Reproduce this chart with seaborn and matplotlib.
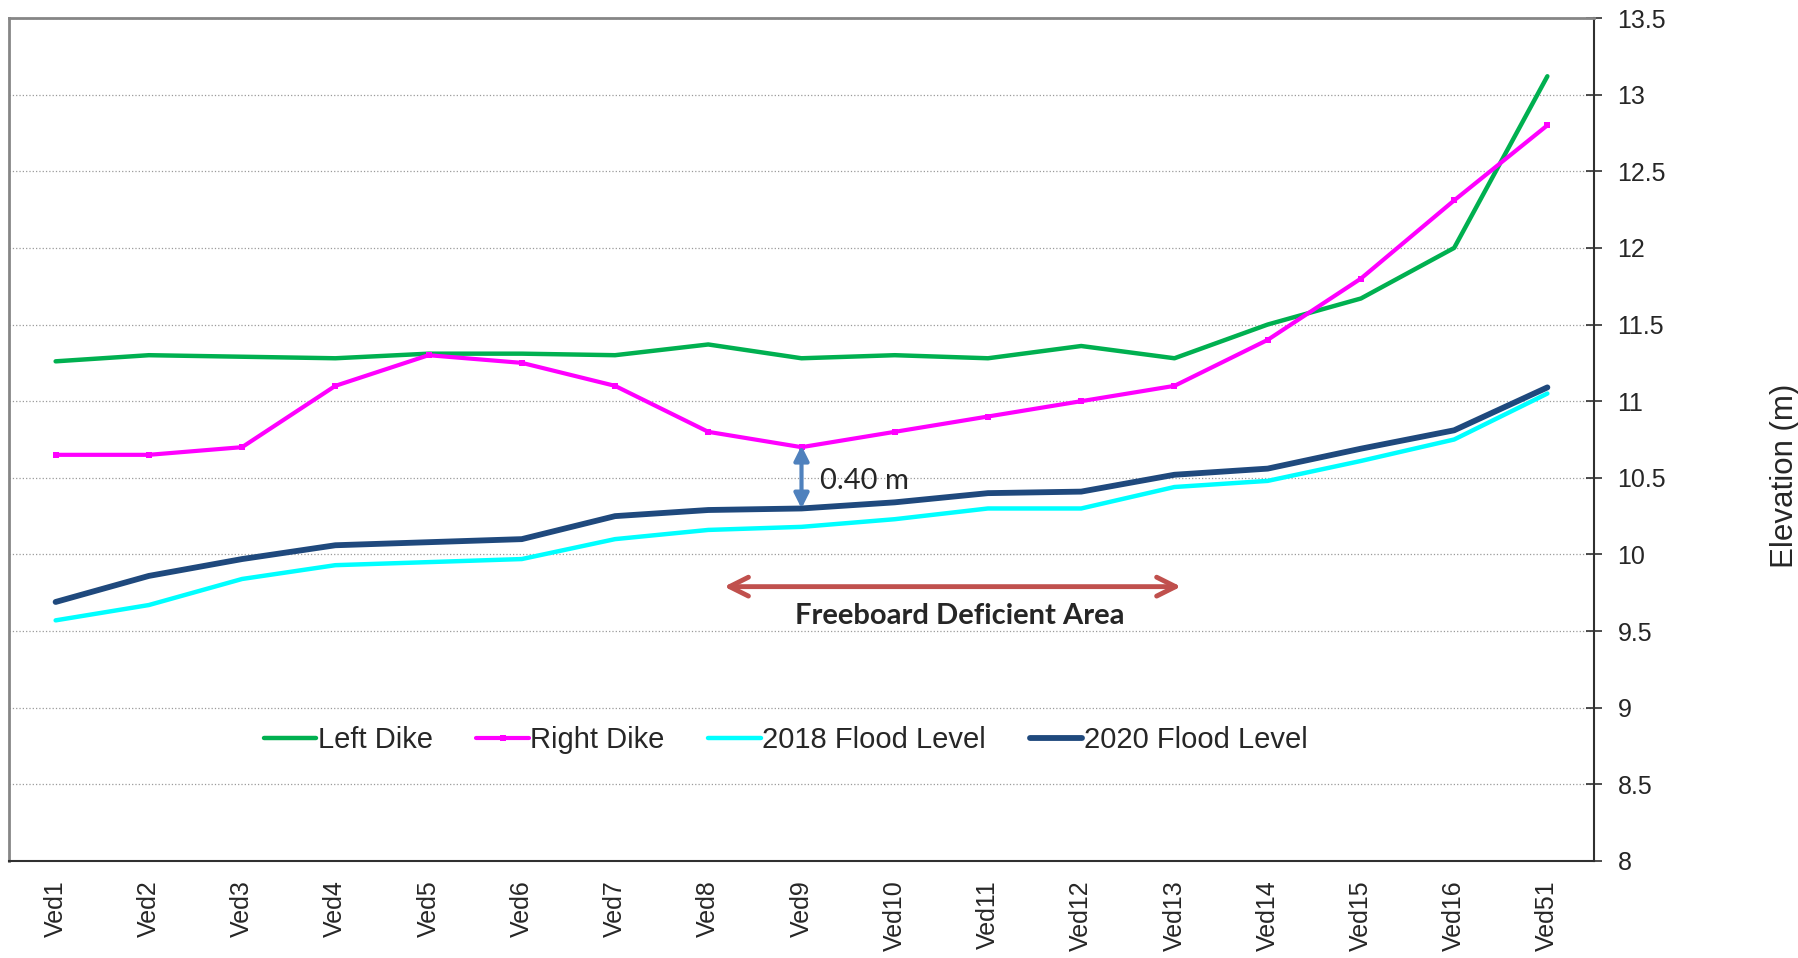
import matplotlib
matplotlib.use("Agg")
import matplotlib.pyplot as plt
import numpy as np
import pandas as pd
import seaborn as sns

# stations along the river
stations = ["Ved1", "Ved2", "Ved3", "Ved4", "Ved5", "Ved6", "Ved7", "Ved8", "Ved9",
            "Ved10", "Ved11", "Ved12", "Ved13", "Ved14", "Ved15", "Ved16", "Ved51"]

left_dike = [11.26, 11.30, 11.29, 11.28, 11.31, 11.31, 11.30, 11.37, 11.28,
             11.30, 11.28, 11.36, 11.28, 11.50, 11.67, 12.00, 13.12]
right_dike = [10.65, 10.65, 10.70, 11.10, 11.30, 11.25, 11.10, 10.80, 10.70,
              10.80, 10.90, 11.00, 11.10, 11.40, 11.80, 12.31, 12.80]
flood_2018 = [9.57, 9.67, 9.84, 9.93, 9.95, 9.97, 10.10, 10.16, 10.18,
              10.23, 10.30, 10.30, 10.44, 10.48, 10.61, 10.75, 11.05]
flood_2020 = [9.69, 9.86, 9.97, 10.06, 10.08, 10.10, 10.25, 10.29, 10.30,
              10.34, 10.40, 10.41, 10.52, 10.56, 10.69, 10.81, 11.09]

y_ticks = [8, 8.5, 9, 9.5, 10, 10.5, 11, 11.5, 12, 12.5, 13, 13.5]


def main():
    sns.set_style("white")
    plt.rcParams["font.family"] = ["Liberation Sans", "DejaVu Sans"]

    df = pd.DataFrame({
        "station": stations,
        "Left Dike": left_dike,
        "Right Dike": right_dike,
        "2018 Flood Level": flood_2018,
        "2020 Flood Level": flood_2020,
    })

    fig = plt.figure(figsize=(17.98, 9.58), dpi=100)
    ax = fig.add_axes([9 / 1798, 1 - 861 / 958, 1585 / 1798, 843 / 958])

    # series styling: colour, line width, marker
    styles = {
        "Left Dike": ("#00B050", 3.2, None),
        "Right Dike": ("#FF00FF", 3.0, "s"),
        "2018 Flood Level": ("#00FFFF", 3.2, None),
        "2020 Flood Level": ("#1F497D", 4.2, None),
    }
    for name, (color, lw, marker) in styles.items():
        sns.lineplot(data=df, x="station", y=name, ax=ax, color=color, lw=lw,
                     marker=marker, markersize=5, markeredgewidth=0,
                     label=name, sort=False)

    ax.set_xlim(-0.5, len(stations) - 0.5)
    ax.set_ylim(8, 13.5)
    ax.set_yticks(y_ticks)
    ax.set_yticklabels([f"{v:g}" for v in y_ticks])
    ax.yaxis.tick_right()
    ax.yaxis.set_label_position("right")
    ax.set_ylabel("Elevation (m)", fontsize=22.5, rotation=90)
    ax.yaxis.set_label_coords(1.111, 0.457)
    ax.set_xlabel("")

    ax.set_xticks(range(len(stations)))
    ax.set_xticklabels(stations, rotation=90, fontsize=18)
    ax.set_xticks(np.arange(0.5, len(stations) - 1, 1.0), minor=True)
    ax.tick_params(axis="x", which="major", length=0, pad=14)
    ax.tick_params(axis="x", which="minor", direction="in", length=9,
                   width=1.2, color="#555555")
    ax.tick_params(axis="y", direction="inout", length=12, width=1.2,
                   color="#303030", labelsize=18, pad=11)

    ax.grid(axis="y", linestyle=":", color="#9A9A9A", lw=0.9)
    ax.set_axisbelow(True)

    for side in ["top", "left"]:
        ax.spines[side].set_color("#868686")
        ax.spines[side].set_linewidth(2)
    for side in ["right", "bottom"]:
        ax.spines[side].set_color("#303030")
        ax.spines[side].set_linewidth(1.5)

    # freeboard arrow at Ved9
    ax.annotate("", xy=(8, 10.71), xytext=(8, 10.30),
                arrowprops=dict(arrowstyle="<|-|>", color="#4F81BD", lw=3,
                                mutation_scale=22, shrinkA=0, shrinkB=0))
    ax.text(8.2, 10.48, "0.40 m", fontsize=21, family=["Lato", "DejaVu Sans"],
            va="center", ha="left")

    ax.annotate("", xy=(12.07, 9.79), xytext=(7.17, 9.79),
                arrowprops=dict(arrowstyle="<->", color="#C0504D", lw=3.5,
                                mutation_scale=34, shrinkA=0, shrinkB=0))
    ax.text(9.7, 9.60, "Freeboard Deficient Area", fontsize=21, fontweight="bold",
            family=["Lato", "DejaVu Sans"], ha="center", va="center")

    ax.legend(loc="center", bbox_to_anchor=(0.49, 0.143), ncol=4, frameon=False,
              fontsize=21, handlelength=1.8, handletextpad=0.05, columnspacing=1.5)

    fig.savefig("out.png", dpi=100)


if __name__ == "__main__":
    main()
